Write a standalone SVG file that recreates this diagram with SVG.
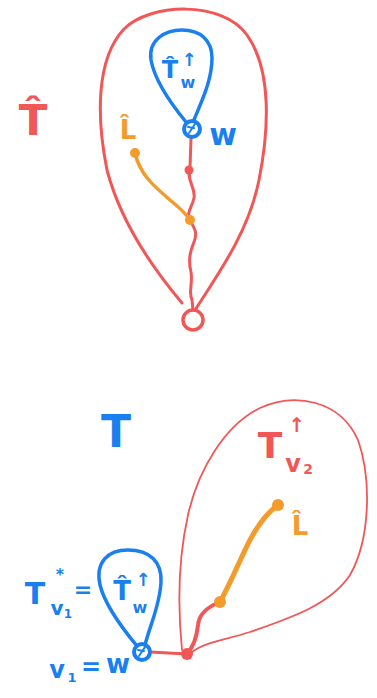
<svg xmlns="http://www.w3.org/2000/svg" width="377" height="698" viewBox="0 0 377 698">
<style>
.red{stroke:#f25757;fill:none;stroke-linecap:round;stroke-linejoin:round}
.blue{stroke:#1a80f0;fill:none;stroke-linecap:round;stroke-linejoin:round}
.org{stroke:#f39c2b;fill:none;stroke-linecap:round;stroke-linejoin:round}
text{font-family:"DejaVu Sans","Noto Sans",sans-serif;font-weight:bold}
.tr{fill:#f25757}.tb{fill:#1a80f0}.to{fill:#f39c2b}
</style>
<rect width="377" height="698" fill="#fff"/>
<g id="connectors">
<path class="red" stroke-width="3" d="M191,138 L190,168 C186,180 196,188 194,198 C192,208 186,212 190,220 C194,228 198,232 194,242 C190,252 188,260 191,272 C193,285 188,292 192,300 L193,310"/>
<path class="org" stroke-width="3.5" d="M135,153 C140,175 155,187 170,200 C180,208 186,214 190,220"/>
<path class="red" stroke-width="3" d="M150,652 L187,654"/>
<path class="red" stroke-width="4" d="M187,654 C195,645 197,635 198,625 C199,612 210,606 220,602"/>
<path class="org" stroke-width="5" d="M220,602 C232,580 242,555 250,540 C258,525 268,512 278,505"/>
</g>
<g id="T-hat-big">
<path class="red" stroke-width="3" d="M182,303 C150,265 120,220 107,170 C97,120 95,60 124,29 C150,3 222,0 247,35 C272,70 269,130 259,180 C249,230 221,270 195,310"/>
<text class="tr" x="33" y="135" font-size="42" text-anchor="middle">T̂</text>
</g>
<g id="root-top"><circle class="red" stroke-width="3.5" cx="193" cy="320" r="10"/></g>
<g id="T-hat-w-top">
<path class="blue" stroke-width="3.5" d="M186,122 C172,105 155,82 151,60 C148,40 165,30 182,30 C200,30 212,40 212,58 C212,80 202,100 194,120"/>
<text class="tb" x="170" y="78" font-size="24" text-anchor="middle">T̂</text>
<text class="tb" x="188" y="88" font-size="16" text-anchor="middle">w</text>
<text class="tb" x="189" y="66" font-size="18" text-anchor="middle">↑</text>
</g>
<g id="w-top">
<circle class="blue" stroke-width="4" cx="192" cy="129" r="8"/>
<path class="blue" stroke-width="2" d="M189,133 L195,124 M188,127 L194,128"/>
<text class="tb" x="223" y="145" font-size="30" text-anchor="middle">w</text>
</g>
<g id="mid-dot"><circle fill="#f25757" cx="189" cy="170" r="4.5"/></g>
<g id="L-hat-top">
<circle fill="#f39c2b" cx="135" cy="153" r="5"/>
<circle fill="#f39c2b" cx="190" cy="220" r="5"/>
<text class="to" x="128" y="139" font-size="26" text-anchor="middle">L̂</text>
</g>
<g id="T-label"><text class="tb" x="116" y="447" font-size="44" text-anchor="middle">T</text></g>
<g id="T-v2">
<path class="red" stroke-width="1.8" d="M182,650 C178,610 178,560 188,515 C198,470 225,425 260,408 C295,392 340,400 358,440 C372,480 370,540 350,575 C330,605 290,618 250,632 C225,640 205,642 192,652"/>
<text class="tr" x="270" y="458" font-size="36" text-anchor="middle">T</text>
<text class="tr" x="297" y="432" font-size="20" text-anchor="middle">↑</text>
<text class="tr" x="293" y="472" font-size="24" text-anchor="middle">v</text>
<text class="tr" x="308" y="474" font-size="14" text-anchor="middle">2</text>
</g>
<g id="junction"><circle fill="#f25757" cx="187" cy="654" r="6"/></g>
<g id="L-hat-bottom">
<circle fill="#f39c2b" cx="220" cy="602" r="6"/>
<circle fill="#f39c2b" cx="278" cy="505" r="6"/>
<text class="to" x="300" y="535" font-size="26" text-anchor="middle">L̂</text>
</g>
<g id="T-star-v1">
<path class="blue" stroke-width="3.5" d="M137,646 C122,628 105,605 100,585 C95,562 108,550 128,550 C150,550 162,562 161,582 C160,605 150,625 145,645"/>
<text class="tb" x="122" y="600" font-size="26" text-anchor="middle">T̂</text>
<text class="tb" x="140" y="613" font-size="16" text-anchor="middle">w</text>
<text class="tb" x="143" y="586" font-size="18" text-anchor="middle">↑</text>
<text class="tb" x="35" y="604" font-size="30" text-anchor="middle">T</text>
<text class="tb" x="57" y="615" font-size="20" text-anchor="middle">v</text>
<text class="tb" x="68" y="618" font-size="12" text-anchor="middle">1</text>
<text class="tb" x="60" y="580" font-size="16" text-anchor="middle">*</text>
<text class="tb" x="83" y="597" font-size="22" text-anchor="middle">=</text>
</g>
<g id="v1-w">
<circle class="blue" stroke-width="4" cx="142" cy="652" r="8"/>
<path class="blue" stroke-width="2" d="M139,656 L145,647 M138,650 L144,651"/>
<text class="tb" x="57" y="678" font-size="24" text-anchor="middle">v</text>
<text class="tb" x="72" y="682" font-size="13" text-anchor="middle">1</text>
<text class="tb" x="91" y="675" font-size="24" text-anchor="middle">=</text>
<text class="tb" x="118" y="673" font-size="26" text-anchor="middle">w</text>
</g>
</svg>
